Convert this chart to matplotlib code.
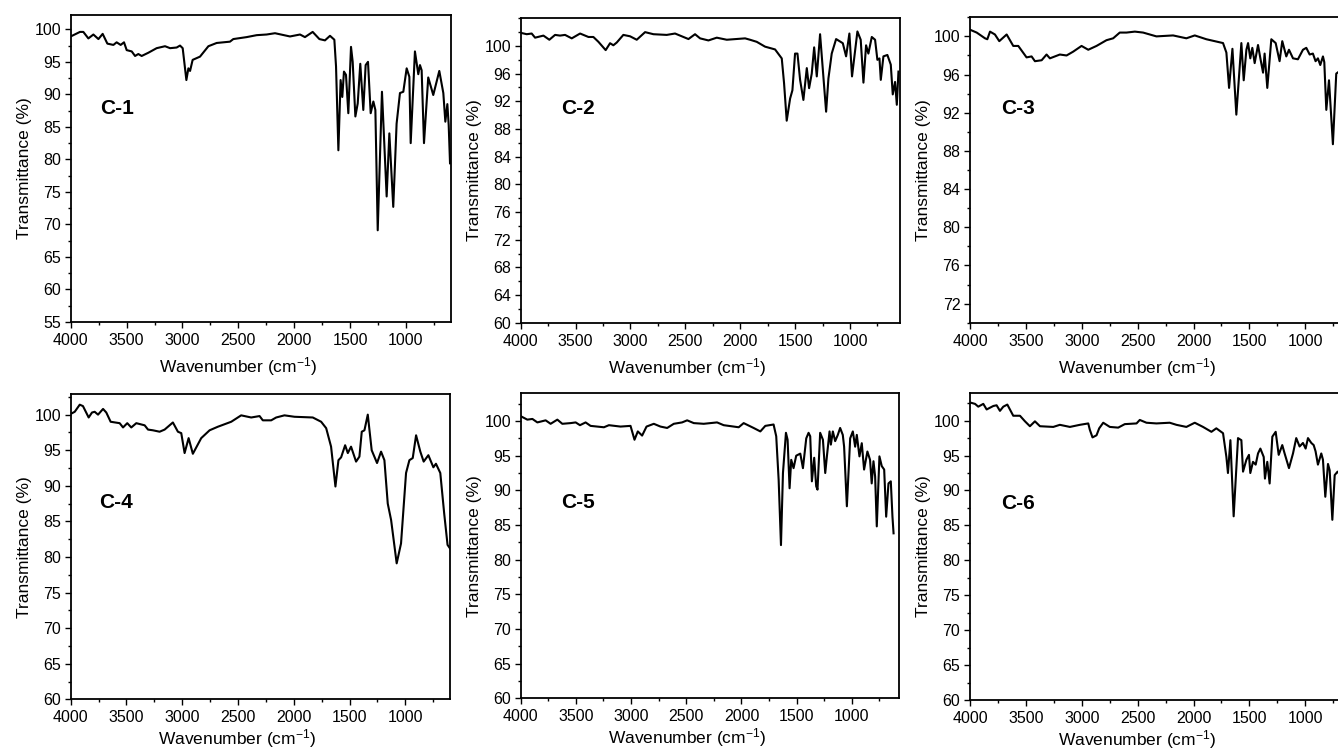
import numpy as np
import matplotlib.pyplot as plt
from matplotlib.ticker import MultipleLocator

plt.rcParams['font.family'] = ['Liberation Sans', 'DejaVu Sans']
plt.rcParams['mathtext.fontset'] = 'custom'
plt.rcParams['mathtext.rm'] = 'Liberation Sans'
plt.rcParams['mathtext.it'] = 'Liberation Sans:italic'

# ---- spectra (wavenumber cm-1, transmittance %) ----
c1_wn = [4000, 3917, 3887, 3842, 3797, 3752, 3714, 3672, 3618, 3589, 3553, 3523, 3499, 3454,
         3424, 3395, 3365, 3305, 3231, 3156, 3111, 3052, 3022, 2998, 2965, 2947, 2932, 2909,
         2843, 2768, 2694, 2575, 2545, 2426, 2336, 2247, 2172, 2038, 1948, 1904, 1835, 1775,
         1725, 1680, 1641, 1626, 1605, 1585, 1570, 1555, 1537, 1516, 1492, 1477, 1453, 1432,
         1409, 1382, 1361, 1340, 1316, 1292, 1274, 1253, 1215, 1173, 1149, 1114, 1084, 1054,
         1024, 994, 970, 958, 920, 890, 875, 860, 839, 801, 756, 702, 666, 648, 630, 618, 606]
c1_t = [98.9, 99.6, 99.6, 98.6, 99.2, 98.5, 99.3, 97.8, 97.6, 98.0, 97.6, 98.0, 96.8, 96.6,
        95.9, 96.2, 95.9, 96.4, 97.1, 97.4, 97.1, 97.2, 97.5, 97.1, 92.2, 94.0, 93.6, 95.3,
        95.8, 97.4, 97.9, 98.1, 98.5, 98.8, 99.1, 99.2, 99.4, 98.9, 99.2, 98.8, 99.6, 98.5,
        98.3, 99.0, 98.4, 94.3, 81.4, 92.2, 89.6, 93.5, 93.0, 87.1, 97.3, 95.0, 86.6, 88.6,
        94.7, 87.6, 94.5, 95.0, 87.1, 88.9, 87.6, 69.1, 90.4, 74.3, 84.0, 72.7, 85.5, 90.2,
        90.4, 94.0, 92.7, 82.5, 96.6, 93.1, 94.5, 93.7, 82.5, 92.6, 89.9, 93.6, 90.2, 85.8,
        88.5, 85.3, 79.4]

c2_wn = [4000, 3945, 3900, 3869, 3793, 3739, 3687, 3642, 3596, 3535, 3459, 3383, 3338, 3292,
         3226, 3186, 3156, 3125, 3065, 3004, 2943, 2867, 2791, 2670, 2594, 2533, 2472, 2412,
         2366, 2290, 2214, 2123, 1956, 1911, 1850, 1774, 1683, 1622, 1601, 1577, 1546, 1525,
         1501, 1479, 1455, 1425, 1394, 1373, 1349, 1327, 1303, 1273, 1249, 1218, 1197, 1167,
         1127, 1066, 1036, 1006, 982, 933, 903, 878, 854, 833, 802, 772, 751, 732, 720, 696,
         660, 629, 611, 590, 574, 559]
c2_t = [101.9, 101.7, 101.8, 101.2, 101.5, 100.9, 101.6, 101.5, 101.6, 101.1, 101.8, 101.3,
        101.3, 100.6, 99.4, 100.4, 100.1, 100.5, 101.6, 101.4, 100.9, 102.0, 101.7, 101.6,
        101.8, 101.4, 101.0, 101.7, 101.1, 100.8, 101.2, 100.9, 101.1, 100.9, 100.6, 99.9,
        99.5, 98.2, 94.6, 89.2, 92.4, 93.6, 98.9, 98.9, 95.1, 92.2, 96.8, 93.9, 96.0, 99.8,
        95.6, 101.7, 96.8, 90.5, 95.3, 98.9, 101.0, 100.4, 98.5, 101.8, 95.6, 102.1, 100.9,
        94.7, 100.1, 98.9, 101.3, 100.9, 98.0, 98.2, 95.1, 98.5, 98.7, 97.3, 93.0, 94.8, 91.5,
        96.3]

c3_wn = [4000, 3940, 3866, 3845, 3821, 3777, 3738, 3672, 3613, 3568, 3494, 3449, 3419, 3359,
         3315, 3285, 3196, 3136, 3077, 3002, 2942, 2868, 2779, 2719, 2660, 2600, 2525, 2451,
         2332, 2183, 2064, 1989, 1885, 1736, 1706, 1682, 1652, 1617, 1572, 1551, 1527, 1512,
         1492, 1474, 1453, 1423, 1402, 1378, 1364, 1340, 1304, 1265, 1230, 1206, 1170, 1146,
         1110, 1066, 1021, 991, 961, 932, 908, 887, 866, 842, 830, 812, 788, 753, 723, 700,
         660, 620]
c3_t = [100.7, 100.4, 99.8, 99.7, 100.5, 100.2, 99.5, 100.2, 99.0, 99.0, 97.8, 97.9, 97.4,
        97.5, 98.1, 97.7, 98.1, 98.0, 98.4, 99.0, 98.6, 99.0, 99.6, 99.8, 100.4, 100.4, 100.5,
        100.4, 100.0, 100.1, 99.8, 100.1, 99.7, 99.3, 98.3, 94.6, 98.7, 91.8, 99.3, 95.4, 98.6,
        99.3, 97.7, 98.8, 97.2, 99.1, 97.7, 96.2, 98.2, 94.6, 99.7, 99.3, 97.4, 99.5, 97.9,
        98.6, 97.7, 97.6, 98.6, 98.8, 98.1, 98.2, 97.4, 97.7, 97.0, 97.9, 97.3, 92.3, 95.4,
        88.7, 96.1, 96.3, 95.5, 95.0]

c4_wn = [4000, 3964, 3919, 3890, 3839, 3809, 3785, 3755, 3710, 3681, 3642, 3561, 3531, 3493,
         3457, 3412, 3337, 3307, 3263, 3203, 3158, 3084, 3039, 3009, 2979, 2943, 2905, 2830,
         2755, 2681, 2561, 2472, 2382, 2307, 2278, 2203, 2158, 2084, 1994, 1830, 1755, 1710,
         1666, 1627, 1600, 1576, 1540, 1516, 1487, 1442, 1412, 1391, 1367, 1337, 1302, 1254,
         1218, 1188, 1158, 1128, 1078, 1039, 994, 964, 934, 904, 866, 836, 794, 749, 726,
         687, 652, 622, 600]
c4_t = [100.1, 100.4, 101.4, 101.2, 99.6, 100.3, 100.4, 100.0, 100.8, 100.3, 99.0, 98.8,
        98.2, 98.8, 98.2, 98.8, 98.5, 97.9, 97.8, 97.6, 97.9, 98.9, 97.6, 97.4, 94.6, 96.7,
        94.5, 96.7, 97.8, 98.3, 99.0, 99.9, 99.6, 99.8, 99.2, 99.2, 99.6, 99.9, 99.7, 99.6,
        99.0, 98.1, 95.5, 89.9, 93.6, 94.0, 95.7, 94.6, 95.5, 93.4, 94.1, 97.6, 97.8, 100.0,
        95.0, 93.2, 94.8, 93.6, 87.5, 85.2, 79.1, 81.9, 91.8, 93.6, 93.9, 97.1, 94.8, 93.4,
        94.3, 92.6, 93.1, 91.8, 86.1, 81.7, 81.2]

c5_wn = [4000, 3940, 3894, 3849, 3774, 3729, 3668, 3623, 3548, 3502, 3463, 3412, 3367, 3246,
         3201, 3096, 3005, 2969, 2939, 2900, 2860, 2794, 2734, 2673, 2613, 2538, 2492, 2432,
         2342, 2221, 2161, 2070, 2025, 1980, 1890, 1829, 1784, 1709, 1685, 1663, 1642, 1624,
         1597, 1582, 1564, 1549, 1528, 1504, 1467, 1443, 1413, 1392, 1377, 1362, 1341, 1323,
         1311, 1287, 1262, 1241, 1226, 1202, 1190, 1172, 1151, 1127, 1106, 1082, 1070, 1045,
         1015, 991, 970, 955, 931, 910, 889, 859, 835, 820, 804, 789, 774, 750, 729, 707, 689,
         668, 647, 632, 622]
c5_t = [100.7, 100.2, 100.3, 99.8, 100.1, 99.6, 100.2, 99.6, 99.7, 99.8, 99.4, 99.8, 99.3,
        99.1, 99.4, 99.2, 99.3, 97.3, 98.5, 97.9, 99.2, 99.6, 99.2, 99.0, 99.6, 99.8, 100.1,
        99.7, 99.6, 99.8, 99.4, 99.2, 99.1, 99.7, 99.0, 98.5, 99.3, 99.5, 97.8, 91.5, 82.1,
        92.5, 98.3, 97.3, 90.3, 94.4, 93.2, 95.0, 95.3, 93.2, 97.5, 98.3, 97.8, 91.3, 94.7,
        90.6, 90.1, 98.3, 97.3, 92.5, 94.9, 98.5, 96.6, 98.5, 97.1, 98.0, 99.0, 98.0, 96.3,
        87.7, 97.5, 98.5, 96.3, 98.0, 94.9, 96.8, 93.0, 95.6, 94.4, 91.0, 94.2, 92.0, 84.8,
        94.9, 93.5, 93.0, 86.2, 91.0, 91.3, 86.2, 83.8]

c6_wn = [4000, 3955, 3926, 3881, 3851, 3791, 3762, 3732, 3702, 3666, 3613, 3553, 3508, 3464,
         3419, 3374, 3255, 3196, 3106, 3017, 2942, 2928, 2904, 2868, 2844, 2808, 2749, 2674,
         2615, 2510, 2481, 2421, 2332, 2213, 2153, 2064, 1989, 1915, 1840, 1796, 1736, 1706,
         1692, 1670, 1641, 1602, 1572, 1557, 1527, 1504, 1492, 1468, 1444, 1423, 1402, 1372,
         1361, 1340, 1319, 1295, 1265, 1238, 1206, 1185, 1146, 1110, 1081, 1051, 1021, 997,
         976, 946, 925, 908, 887, 857, 842, 821, 797, 782, 758, 737, 711, 680, 640]
c6_t = [102.6, 102.4, 102.0, 102.4, 101.6, 102.1, 102.2, 101.4, 102.0, 102.3, 100.7, 100.7,
        99.9, 99.2, 99.9, 99.2, 99.1, 99.4, 99.1, 99.4, 99.6, 98.7, 97.6, 97.9, 98.9, 99.7,
        99.1, 99.0, 99.5, 99.6, 100.1, 99.7, 99.6, 99.7, 99.4, 99.1, 99.7, 99.1, 98.4, 98.9,
        98.2, 94.8, 92.5, 97.2, 86.3, 97.5, 97.2, 92.7, 94.4, 95.1, 92.5, 94.1, 93.7, 95.3,
        96.0, 94.8, 91.7, 94.1, 91.0, 97.7, 98.4, 95.1, 96.5, 95.3, 93.2, 95.3, 97.5, 96.3,
        96.8, 96.0, 97.5, 96.8, 96.5, 95.6, 93.7, 95.3, 94.4, 89.1, 93.8, 92.9, 85.8, 92.2,
        92.7, 92.0, 91.5]

labels = ['C-1', 'C-2', 'C-3', 'C-4', 'C-5', 'C-6']
spectra = [(c1_wn, c1_t), (c2_wn, c2_t), (c3_wn, c3_t),
           (c4_wn, c4_t), (c5_wn, c5_t), (c6_wn, c6_t)]

# axes rectangles in pixels: left, top, right, bottom
W, H = 1338, 749
boxes = [(70.7, 15, 450.7, 322), (520.7, 18.3, 900, 322.7), (970, 17.3, 1350, 322.7),
         (70.7, 394, 450, 699.3), (520.7, 393.3, 899.3, 698.3), (970, 392.7, 1350, 700)]
xlims = [(4000, 600), (4000, 545), (4000, 600), (4000, 600), (4000, 570), (4000, 600)]
ylims = [(55, 102.2), (60, 104), (70, 102), (60, 102.9), (60, 104), (60, 104)]
ysteps = [5, 4, 4, 5, 5, 5]
ylow = [55, 60, 72, 60, 60, 60]
label_pos = [(0.077, 0.697), (0.106, 0.705), (0.081, 0.702),
             (0.075, 0.644), (0.106, 0.641), (0.081, 0.640)]
xlabel_pad = [5, 5, 5, 1.5, 1.5, 1.5]

fig = plt.figure(figsize=(W / 100, H / 100), dpi=100)

for i in range(6):
    l, t, r, b = boxes[i]
    ax = fig.add_axes([l / W, 1 - b / H, (r - l) / W, (b - t) / H])
    wn, tr = spectra[i]
    ax.plot(wn, tr, color='black', lw=1.5, solid_joinstyle='round')
    ax.set_xlim(*xlims[i])
    ax.set_ylim(*ylims[i])
    ax.set_xticks([4000, 3500, 3000, 2500, 2000, 1500, 1000])
    ax.xaxis.set_minor_locator(MultipleLocator(250))
    st = ysteps[i]
    ax.set_yticks(np.arange(ylow[i], 100.1, st))
    ax.yaxis.set_minor_locator(MultipleLocator(st / 2))
    ax.tick_params(which='both', direction='out', top=False, right=False,
                   labelsize=11.5, width=1.0, colors='black')
    ax.tick_params(axis='x', pad=4)
    ax.tick_params(axis='y', pad=3)
    ax.tick_params(which='major', length=4)
    ax.tick_params(which='minor', length=2.5)
    for sp in ax.spines.values():
        sp.set_linewidth(1.3)
    ax.set_xlabel(r'Wavenumber (cm$^{-1}$)', fontsize=12.5, labelpad=xlabel_pad[i])
    ax.xaxis.label.set_x(0.44)
    ax.set_ylabel('Transmittance (%)', fontsize=12.5, labelpad=2)
    ax.text(label_pos[i][0], label_pos[i][1], labels[i], transform=ax.transAxes,
            fontsize=15, fontweight='bold', ha='left', va='center')

fig.savefig('out.png', dpi=100)
